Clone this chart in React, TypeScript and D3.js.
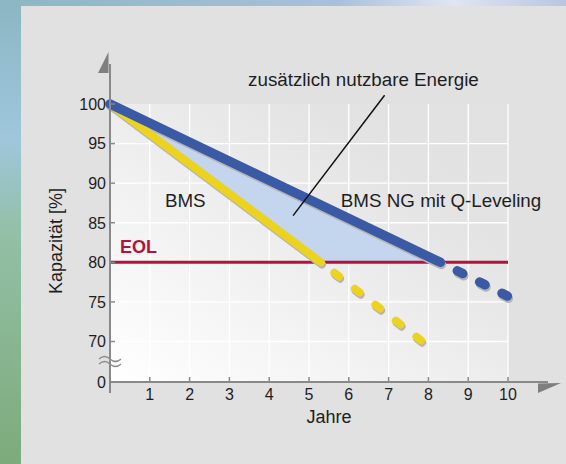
import React from 'react';
import * as d3 from 'd3';

// axis values
const years = [1, 2, 3, 4, 5, 6, 7, 8, 9, 10];
const yTickValues = [0, 70, 75, 80, 85, 90, 95, 100];
const yGridValues = [70, 75, 80, 85, 90, 95];
const eolLevel = 80;

// BMS (yellow) and BMS NG with Q-Leveling (blue), [year, capacity %]
const bmsSolid = [[0, 100], [5.3, 80]];
const bmsDashed = [[5.3, 80], [7.85, 70]];
const ngSolid = [[0, 100], [8.3, 80]];
const ngDashed = [[8.3, 80], [10, 75.7]];
// area between the two curves above EOL
const gainArea = [[0, 100], [8.3, 80], [5.3, 80]];

// annotations
const leader = [[6.9, 101.1], [4.6, 85.9]];
const labels = [
  { text: 'zusätzlich nutzbare Energie', x: 3.47, y: 102.3 },
  { text: 'BMS', x: 1.38, y: 87 },
  { text: 'BMS NG mit Q-Leveling', x: 5.8, y: 87 }
];
const eolLabel = { text: 'EOL', x: 0.25, y: 81.2 };

const W = 566;
const H = 464;
const font = '"Liberation Sans", Arial, Helvetica, sans-serif';

const App = () => {
  const x = d3.scaleLinear().domain([0, 10]).range([110, 508]);
  // broken axis: 0 sits right under 70
  const y = d3.scaleLinear().domain([0, 70, 100]).range([382, 341.5, 104]);

  const line = d3
    .line()
    .x(d => x(d[0]))
    .y(d => y(d[1]));

  const area = d3
    .line()
    .x(d => x(d[0]))
    .y(d => y(d[1]))
    .curve(d3.curveLinearClosed);

  const x0 = x(0);
  const x10 = x(10);
  const yTop = y(100);
  const yBase = y(0);

  const shadow = 'translate(1, 2.2)';

  return (
    <svg
      width={W}
      height={H}
      style={{ position: 'absolute', left: 0, top: 0 }}
      fontFamily={font}
    >
      <defs>
        <linearGradient id="sideBg" x1="0" y1="0" x2="0" y2="1">
          <stop offset="0" stopColor="#8cb6c3" />
          <stop offset="0.3" stopColor="#9fc6dc" />
          <stop offset="0.5" stopColor="#93c0a6" />
          <stop offset="1" stopColor="#7dab7b" />
        </linearGradient>
        <linearGradient id="topBg" x1="0" y1="0" x2="1" y2="0">
          <stop offset="0" stopColor="#8cb6c3" />
          <stop offset="0.6" stopColor="#a9c0dc" />
          <stop offset="0.8" stopColor="#dfe6f2" />
          <stop offset="1" stopColor="#b8c6e2" />
        </linearGradient>
        <linearGradient id="plotBg" x1="0" y1="1" x2="1" y2="0">
          <stop offset="0" stopColor="#ffffff" />
          <stop offset="0.75" stopColor="#e3e3e3" />
          <stop offset="1" stopColor="#e1e1e1" />
        </linearGradient>
      </defs>

      {/* backdrop */}
      <rect x={0} y={0} width={W} height={H} fill="url(#sideBg)" />
      <rect x={0} y={0} width={W} height={7} fill="url(#topBg)" />
      <rect x={21} y={6} width={W - 21} height={H - 6} fill="#e1e1e1" />

      {/* plot background + grid */}
      <rect x={x0} y={yTop} width={x10 - x0} height={yBase - yTop} fill="url(#plotBg)" />
      {years.map(v => (
        <line key={'gx' + v} x1={x(v)} x2={x(v)} y1={yTop} y2={yBase} stroke="#fff" strokeWidth={1.3} />
      ))}
      {yGridValues.map(v => (
        <line key={'gy' + v} x1={x0} x2={x10} y1={y(v)} y2={y(v)} stroke="#fff" strokeWidth={1.3} />
      ))}

      {/* gained energy */}
      <path d={area(gainArea)} fill="#c4d5ee" />

      {/* EOL */}
      <line x1={x0} x2={x10} y1={y(eolLevel)} y2={y(eolLevel)} stroke="#b3123b" strokeWidth={3} />

      {/* shadows */}
      <g transform={shadow} fill="none" stroke="#b4b4b4" strokeLinecap="round">
        <path d={line(bmsSolid)} strokeWidth={8} />
        <path d={line(bmsDashed)} strokeWidth={8} strokeDasharray="6 20" strokeDashoffset={9} />
        <path d={line(ngSolid)} strokeWidth={9.5} />
        <path d={line(ngDashed)} strokeWidth={9.5} strokeDasharray="6 19" strokeDashoffset={6} />
      </g>

      {/* BMS */}
      <g fill="none" stroke="#ecd31f" strokeLinecap="round" strokeWidth={8}>
        <path d={line(bmsSolid)} />
        <path d={line(bmsDashed)} strokeDasharray="6 20" strokeDashoffset={9} />
      </g>

      {/* BMS NG */}
      <g fill="none" stroke="#3b5aa5" strokeLinecap="round" strokeWidth={9.5}>
        <path d={line(ngSolid)} />
        <path d={line(ngDashed)} strokeDasharray="6 19" strokeDashoffset={6} />
      </g>

      {/* axes */}
      <g stroke="#898989" fill="none">
        <line x1={x0} x2={x0} y1={64} y2={393} strokeWidth={2} />
        <line x1={x0} x2={548} y1={yBase} y2={yBase} strokeWidth={2} />
        {yTickValues.filter(v => v > 0).map(v => (
          <line key={'ty' + v} x1={x0} x2={x0 + 5} y1={y(v)} y2={y(v)} strokeWidth={1.5} />
        ))}
        {years.map(v => (
          <line key={'tx' + v} x1={x(v)} x2={x(v)} y1={yBase} y2={yBase - 5} strokeWidth={1.5} />
        ))}
      </g>
      <path d="M98,73 L108.5,73 L108.5,52 Z" fill="#7f7f7f" />
      <path d="M538,383.5 L561,383 L538,393 Z" fill="#7f7f7f" />

      {/* axis break */}
      <g fill="none" stroke="#8c8c8c" strokeWidth={1.3}>
        <path d="M99,360 q5.5,-5 11,0 t11,0" fill="#e1e1e1" stroke="none" />
        <path d="M99,359 q5.5,-5 11,0 t11,0" />
        <path d="M99,364 q5.5,-5 11,0 t11,0" />
      </g>

      {/* tick labels */}
      <g fill="#1e1e1e" fontSize={16}>
        {yTickValues.map(v => (
          <text key={'ly' + v} x={106} y={y(v)} dy="0.36em" textAnchor="end">
            {v}
          </text>
        ))}
        {years.map(v => (
          <text key={'lx' + v} x={x(v)} y={400} textAnchor="middle">
            {v}
          </text>
        ))}
      </g>

      {/* axis titles */}
      <text x={329} y={423} textAnchor="middle" fontSize={18} fill="#1e1e1e">
        Jahre
      </text>
      <text
        transform="translate(62, 241) rotate(-90)"
        textAnchor="middle"
        fontSize={18}
        fill="#1e1e1e"
      >
        Kapazität [%]
      </text>

      {/* annotations */}
      <path d={line(leader)} stroke="#111" strokeWidth={1.5} fill="none" />
      {labels.map(l => (
        <text key={l.text} x={x(l.x)} y={y(l.y)} fontSize={18.8} fill="#1e1e1e">
          {l.text}
        </text>
      ))}
      <text x={x(eolLabel.x)} y={y(eolLabel.y)} fontSize={18} fontWeight="bold" fill="#b3123b">
        {eolLabel.text}
      </text>
    </svg>
  );
};

export default App;
